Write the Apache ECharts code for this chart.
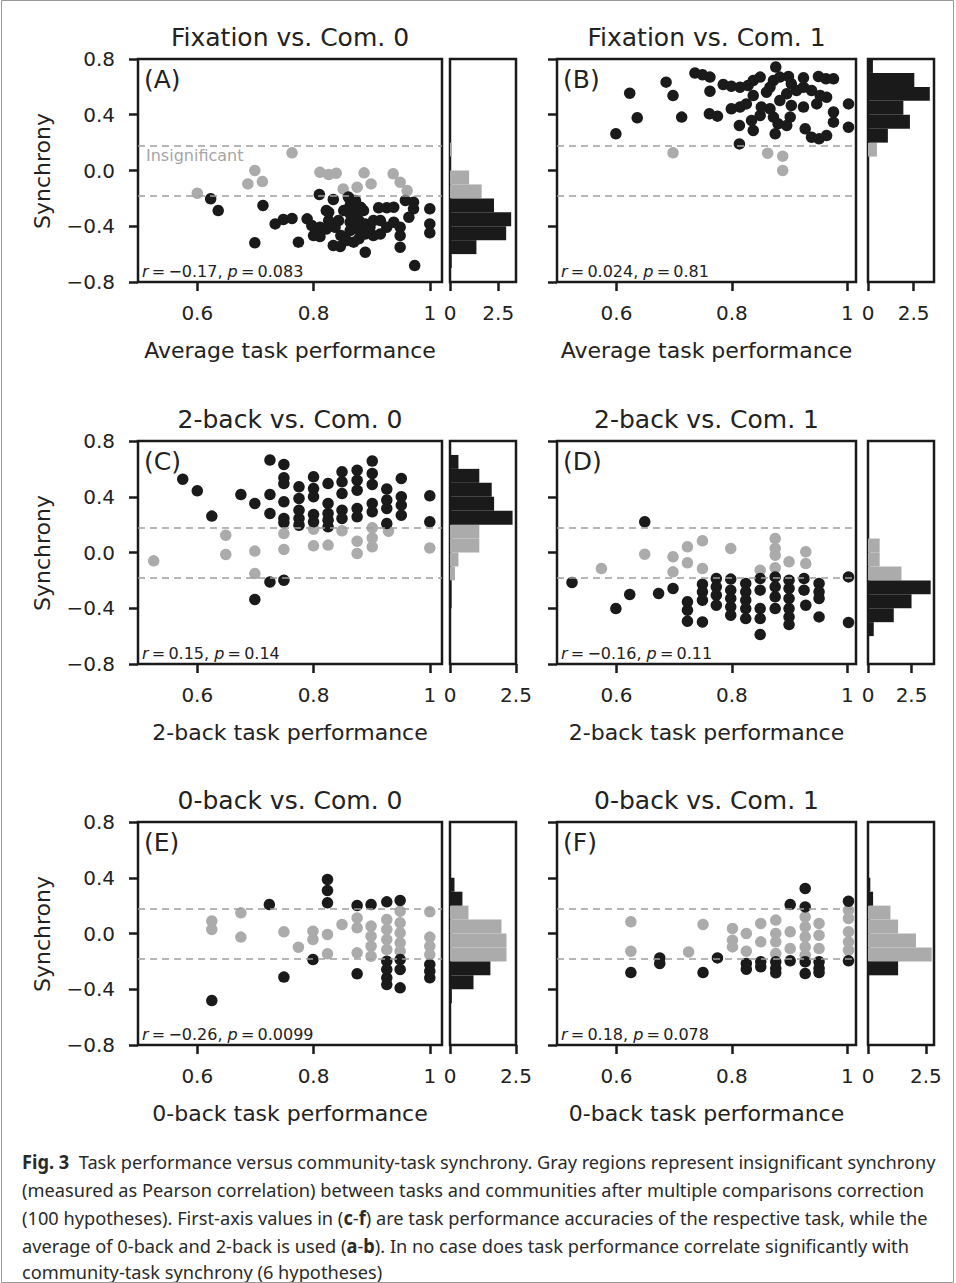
<!DOCTYPE html>
<html><head><meta charset="utf-8">
<script src="https://cdn.jsdelivr.net/npm/echarts@6/dist/echarts.min.js"></script>
<style>html,body{margin:0;padding:0;background:#fff}#c{width:956px;height:1283px}</style>
</head><body><div id="c"></div>
<script>
// ---------------- data ----------------
const panelTitles = ['Fixation vs. Com. 0','Fixation vs. Com. 1','2-back vs. Com. 0','2-back vs. Com. 1','0-back vs. Com. 0','0-back vs. Com. 1'];
const panelTags = ['(A)','(B)','(C)','(D)','(E)','(F)'];
const xAxisNames = ['Average task performance','Average task performance','2-back task performance','2-back task performance','0-back task performance','0-back task performance'];
const statR = ['\u22120.17','0.024','0.15','\u22120.16','\u22120.26','0.18'];
const statP = ['0.083','0.81','0.14','0.11','0.0099','0.078'];
const xTickValues = [0.6, 0.8, 1.0];
const histTickValues = [0, 2.5];
const thresholds = [0.185, -0.185];
// histogram bins (lower edges), bottom to top
const histBins = ['-0.8','-0.7','-0.6','-0.5','-0.4','-0.3','-0.2','-0.1','0.0','0.1','0.2','0.3','0.4','0.5','0.6','0.7'];

// Panel A: Fixation vs Com 0
const aGray = [[0.600,-0.163],[0.699,0.000],[0.687,-0.096],[0.712,-0.079],[0.763,0.127],[0.811,-0.012],[0.826,-0.029],[0.839,-0.019],[0.851,-0.132],[0.875,-0.120],[0.887,-0.017],[0.899,-0.096],[0.937,-0.024],[0.949,-0.084],[0.961,-0.144]];
const aBlack = [[0.623,-0.203],[0.636,-0.287],[0.699,-0.519],[0.713,-0.251],[0.734,-0.383],[0.748,-0.352],[0.763,-0.344],[0.774,-0.514],[0.789,-0.347],[0.797,-0.395],[0.800,-0.467],[0.811,-0.407],[0.811,-0.474],[0.810,-0.172],[0.834,-0.208],[0.826,-0.299],[0.826,-0.359],[0.837,-0.407],[0.834,-0.538],[0.846,-0.545],[0.847,-0.467],[0.860,-0.191],[0.863,-0.251],[0.863,-0.311],[0.863,-0.371],[0.863,-0.431],[0.872,-0.215],[0.875,-0.287],[0.878,-0.359],[0.875,-0.419],[0.878,-0.490],[0.869,-0.514],[0.886,-0.287],[0.889,-0.383],[0.889,-0.455],[0.889,-0.586],[0.897,-0.407],[0.903,-0.359],[0.912,-0.268],[0.926,-0.268],[0.938,-0.263],[0.915,-0.359],[0.926,-0.407],[0.938,-0.371],[0.949,-0.407],[0.949,-0.467],[0.949,-0.550],[0.958,-0.215],[0.972,-0.227],[0.972,-0.275],[0.964,-0.335],[1.000,-0.275],[1.000,-0.383],[1.000,-0.447],[0.974,-0.682],[0.822,-0.419],[0.843,-0.359],[0.852,-0.287],[0.903,-0.467],[0.915,-0.455],[0.857,-0.502],[0.869,-0.335],[0.881,-0.263],[0.822,-0.287]];
const aHistGray  = [0,0,0,0,0,0,1.64,0.99,0,0.10,0,0,0,0,0,0];
const aHistBlack = [0,0.09,1.37,2.91,3.17,2.28,0,0,0,0,0,0,0,0,0,0];

// Panel B: Fixation vs Com 1
const bGray = [[0.698,0.127],[0.862,0.124],[0.888,0.103],[0.888,0.000]];
const bBlack = [[0.599,0.263],[0.623,0.555],[0.636,0.378],[0.686,0.634],[0.698,0.538],[0.713,0.383],[0.736,0.699],[0.749,0.687],[0.762,0.670],[0.762,0.569],[0.761,0.407],[0.775,0.390],[0.785,0.617],[0.799,0.605],[0.813,0.191],[0.813,0.323],[0.799,0.443],[0.814,0.455],[0.825,0.478],[0.814,0.598],[0.828,0.610],[0.837,0.646],[0.849,0.670],[0.837,0.538],[0.860,0.562],[0.876,0.742],[0.872,0.646],[0.883,0.670],[0.898,0.675],[0.903,0.622],[0.924,0.665],[0.950,0.675],[0.963,0.658],[0.976,0.658],[0.834,0.359],[0.837,0.287],[0.849,0.395],[0.851,0.455],[0.866,0.443],[0.872,0.383],[0.875,0.263],[0.880,0.335],[0.895,0.323],[0.901,0.383],[0.903,0.467],[0.924,0.455],[0.927,0.299],[0.938,0.239],[0.951,0.227],[0.964,0.251],[0.895,0.550],[0.883,0.502],[0.924,0.598],[0.938,0.574],[0.947,0.478],[0.953,0.538],[0.964,0.526],[0.976,0.419],[0.976,0.347],[1.002,0.478],[1.002,0.311],[0.912,0.574],[0.866,0.598]];
const bHistGray  = [0,0,0,0,0,0,0,0,0,0.49,0,0,0,0,0,0];
const bHistBlack = [0,0,0,0,0,0,0,0,0,0,1.09,2.30,1.94,3.39,2.54,0.27];

// Panel C: 2-back vs Com 0
const cGray = [[0.525,-0.060],[0.649,0.124],[0.649,-0.014],[0.699,0.010],[0.699,-0.151],[0.749,0.136],[0.749,0.022],[0.800,0.167],[0.800,0.048],[0.825,0.053],[0.849,0.156],[0.875,0.081],[0.875,-0.007],[0.901,0.177],[0.901,0.105],[0.901,0.041],[0.929,0.153],[1.000,0.033]];
const cBlack = [[0.575,0.526],[0.600,0.443],[0.625,0.261],[0.675,0.416],[0.699,0.352],[0.699,-0.337],[0.725,0.663],[0.725,0.416],[0.725,0.280],[0.725,-0.211],[0.749,0.632],[0.749,0.536],[0.749,0.495],[0.749,0.364],[0.749,0.244],[0.749,0.215],[0.749,-0.199],[0.775,0.471],[0.775,0.388],[0.775,0.304],[0.775,0.244],[0.775,0.196],[0.800,0.543],[0.800,0.459],[0.800,0.400],[0.800,0.273],[0.800,0.220],[0.825,0.495],[0.825,0.352],[0.825,0.280],[0.825,0.232],[0.825,0.184],[0.849,0.579],[0.849,0.507],[0.849,0.423],[0.849,0.304],[0.849,0.244],[0.875,0.591],[0.875,0.519],[0.875,0.447],[0.875,0.316],[0.875,0.256],[0.901,0.656],[0.901,0.567],[0.901,0.488],[0.901,0.352],[0.901,0.292],[0.926,0.455],[0.926,0.376],[0.926,0.316],[0.926,0.208],[0.951,0.531],[0.951,0.400],[0.951,0.340],[0.951,0.268],[1.000,0.407],[1.000,0.220]];
const cHistGray  = [0,0,0,0,0,0,0.19,0.32,1.11,1.11,0,0,0,0,0,0];
const cHistBlack = [0,0,0,0,0.06,0.06,0,0,0,0,2.37,1.67,1.58,1.11,0.32,0];

// Panel D: 2-back vs Com 1
const dGray = [[0.574,-0.115],[0.649,-0.012],[0.698,-0.031],[0.698,-0.139],[0.723,0.041],[0.723,-0.074],[0.749,0.084],[0.749,-0.115],[0.798,0.029],[0.849,-0.127],[0.875,0.100],[0.875,0.029],[0.875,-0.019],[0.875,-0.110],[0.899,-0.067],[0.928,0.005],[0.928,-0.079]];
const dBlack = [[0.649,0.220],[0.523,-0.215],[0.599,-0.402],[0.623,-0.301],[0.673,-0.294],[0.698,-0.258],[0.723,-0.354],[0.723,-0.414],[0.723,-0.493],[0.749,-0.227],[0.749,-0.282],[0.749,-0.342],[0.749,-0.498],[0.773,-0.187],[0.773,-0.246],[0.773,-0.306],[0.773,-0.378],[0.798,-0.191],[0.798,-0.270],[0.798,-0.330],[0.798,-0.390],[0.798,-0.450],[0.824,-0.222],[0.824,-0.282],[0.824,-0.342],[0.824,-0.402],[0.824,-0.474],[0.849,-0.187],[0.849,-0.270],[0.849,-0.402],[0.849,-0.474],[0.849,-0.589],[0.875,-0.175],[0.875,-0.246],[0.875,-0.318],[0.875,-0.402],[0.899,-0.199],[0.899,-0.258],[0.899,-0.330],[0.899,-0.402],[0.899,-0.462],[0.899,-0.517],[0.925,-0.187],[0.925,-0.270],[0.928,-0.378],[0.951,-0.222],[0.951,-0.282],[0.951,-0.330],[0.951,-0.462],[1.002,-0.175],[1.002,-0.502]];
const dHistGray  = [0,0,0,0,0,0,1.92,0.67,0.67,0,0,0,0,0,0,0];
const dHistBlack = [0,0,0.33,1.48,2.50,3.60,0,0,0,0,0,0,0,0,0,0];

// Panel E: 0-back vs Com 0
const eGray = [[0.625,0.089],[0.625,0.029],[0.675,0.148],[0.675,-0.026],[0.749,0.012],[0.774,-0.098],[0.799,0.017],[0.799,-0.043],[0.824,-0.007],[0.824,-0.146],[0.849,0.065],[0.875,0.112],[0.875,0.041],[0.875,-0.139],[0.899,0.053],[0.899,-0.019],[0.899,-0.091],[0.899,-0.163],[0.926,0.100],[0.926,0.029],[0.926,-0.043],[0.926,-0.115],[0.949,0.160],[0.949,0.077],[0.949,0.005],[0.949,-0.067],[0.949,-0.127],[1.000,0.156],[1.000,-0.026],[1.000,-0.091],[1.000,-0.151]];
const eBlack = [[0.625,-0.481],[0.724,0.208],[0.749,-0.313],[0.799,-0.187],[0.824,0.388],[0.824,0.309],[0.824,0.220],[0.875,0.201],[0.899,0.208],[0.926,0.227],[0.949,0.237],[0.875,-0.289],[0.926,-0.199],[0.926,-0.258],[0.926,-0.318],[0.926,-0.366],[0.949,-0.187],[0.949,-0.258],[0.949,-0.390],[1.000,-0.222],[1.000,-0.270],[1.000,-0.318]];
const eHistGray  = [0,0,0,0,0,0,2.14,2.14,1.95,0.70,0,0,0,0,0,0];
const eHistBlack = [0,0,0,0.07,0.89,1.53,0,0,0,0,0.47,0.17,0,0,0,0];

// Panel F: 0-back vs Com 1
const fGray = [[0.625,0.084],[0.625,-0.127],[0.750,0.065],[0.725,-0.132],[0.801,0.036],[0.801,-0.048],[0.801,-0.096],[0.825,0.000],[0.825,-0.127],[0.850,0.072],[0.850,-0.060],[0.876,0.096],[0.876,0.000],[0.876,-0.060],[0.876,-0.144],[0.901,0.012],[0.901,-0.108],[0.927,0.120],[0.927,0.048],[0.927,-0.024],[0.927,-0.096],[0.927,-0.156],[0.951,0.072],[0.951,-0.012],[0.951,-0.108],[1.002,0.167],[1.002,0.108],[1.002,0.012],[1.002,-0.060],[1.002,-0.120]];
const fBlack = [[0.625,-0.280],[0.675,-0.175],[0.675,-0.215],[0.750,-0.280],[0.775,-0.175],[0.825,-0.215],[0.825,-0.256],[0.850,-0.203],[0.850,-0.239],[0.876,-0.203],[0.876,-0.251],[0.876,-0.282],[0.901,0.208],[0.901,-0.196],[0.927,0.323],[0.927,0.191],[0.927,-0.203],[0.927,-0.287],[0.951,-0.203],[0.951,-0.251],[0.951,-0.280],[1.002,0.232],[1.002,-0.196]];
const fHistGray  = [0,0,0,0,0,0,2.75,2.07,1.30,0.97,0,0,0,0,0,0];
const fHistBlack = [0,0,0,0,0,1.30,0,0,0,0,0.22,0.10,0,0,0,0];

const grayPts = [aGray,bGray,cGray,dGray,eGray,fGray];
const blackPts = [aBlack,bBlack,cBlack,dBlack,eBlack,fBlack];
const histGray = [aHistGray,bHistGray,cHistGray,dHistGray,eHistGray,fHistGray];
const histBlack = [aHistBlack,bHistBlack,cHistBlack,dHistBlack,eHistBlack,fHistBlack];

// ---------------- layout ----------------
const FONT = 'DejaVu Sans';
const INK = '#1a1a1a';
const GRAY = '#ababab';
const colLeft = [138, 557], colWidth = [304, 299];
const colXRange = [[0.498, 1.021], [0.497, 1.015]];
const rowTop = [59, 441, 822], plotH = 223;
const histLeft = [450, 868], histW = 66;
const histMax = [3.42, 3.62, 2.5, 3.79, 2.5, 2.85];

const grid = [], xAxis = [], yAxis = [], series = [], graphic = [];
const fmtY = v => Math.abs(v) < 1e-9 ? '0.0' : (v < 0 ? '\u2212' : '') + Math.abs(v).toFixed(1);
const tickStyle = {show: true, length: 9, lineStyle: {color: INK, width: 2.5}};

for (let i = 0; i < 6; i++) {
  const col = i % 2, row = Math.floor(i / 2);
  const gS = 2 * i, gH = 2 * i + 1;
  const top = rowTop[row];
  grid.push({left: colLeft[col], top: top, width: colWidth[col], height: plotH, show: true, borderColor: INK, borderWidth: 2.5, backgroundColor: 'transparent', containLabel: false});
  grid.push({left: histLeft[col], top: top, width: histW, height: plotH, show: true, borderColor: INK, borderWidth: 2.5, backgroundColor: 'transparent', containLabel: false});
  xAxis.push({type: 'value', gridIndex: gS, min: colXRange[col][0], max: colXRange[col][1],
    axisLine: {show: false, onZero: false}, splitLine: {show: false},
    axisTick: Object.assign({customValues: xTickValues}, tickStyle),
    axisLabel: {customValues: xTickValues, formatter: v => v > 0.999 ? '1' : v.toFixed(1), fontSize: 20, fontFamily: FONT, color: '#222', margin: 21}});
  xAxis.push({type: 'value', gridIndex: gH, min: 0, max: histMax[i],
    axisLine: {show: false, onZero: false}, splitLine: {show: false},
    axisTick: Object.assign({customValues: histTickValues}, tickStyle),
    axisLabel: {customValues: histTickValues, formatter: v => v === 0 ? '0' : v.toFixed(1), fontSize: 20, fontFamily: FONT, color: '#222', margin: 21}});
  yAxis.push({type: 'value', gridIndex: gS, min: -0.8, max: 0.8, interval: 0.4,
    axisLine: {show: false, onZero: false}, splitLine: {show: false},
    axisTick: tickStyle,
    axisLabel: {show: col === 0, formatter: fmtY, fontSize: 20, fontFamily: FONT, color: '#222', margin: 23}});
  yAxis.push({type: 'category', gridIndex: gH, data: histBins, boundaryGap: true,
    axisLine: {show: false, onZero: false}, axisTick: {show: false}, axisLabel: {show: false}, splitLine: {show: false}});

  series.push({type: 'scatter', xAxisIndex: gS, yAxisIndex: gS, data: grayPts[i], symbolSize: 11.5, itemStyle: {color: GRAY, opacity: 1}, z: 2, silent: true});
  series.push({type: 'scatter', xAxisIndex: gS, yAxisIndex: gS, data: blackPts[i], symbolSize: 11.5, itemStyle: {color: INK, opacity: 1}, z: 3, silent: true,
    markLine: {silent: true, symbol: 'none', z: 10, label: {show: false},
      lineStyle: {type: [7, 5], color: '#9e9e9e', width: 1.5},
      data: thresholds.map(t => ({yAxis: t}))}});
  series.push({type: 'bar', xAxisIndex: gH, yAxisIndex: gH, data: histGray[i], barGap: '-100%', barCategoryGap: '0%', itemStyle: {color: GRAY}, silent: true});
  series.push({type: 'bar', xAxisIndex: gH, yAxisIndex: gH, data: histBlack[i], barGap: '-100%', barCategoryGap: '0%', itemStyle: {color: INK}, silent: true});

  const cx = colLeft[col] + colWidth[col] / 2;
  graphic.push({type: 'text', x: cx, y: top - 22, style: {text: panelTitles[i], fontSize: 25, fontFamily: FONT, fill: '#222', textAlign: 'center', textVerticalAlign: 'middle'}});
  graphic.push({type: 'text', x: cx, y: top + 291, style: {text: xAxisNames[i], fontSize: 22, fontFamily: FONT, fill: '#222', textAlign: 'center', textVerticalAlign: 'middle'}});
  graphic.push({type: 'text', x: colLeft[col] + 6, y: top + 20, style: {text: panelTags[i], fontSize: 25, fontFamily: FONT, fill: '#222', textAlign: 'left', textVerticalAlign: 'middle'}});
  graphic.push({type: 'text', x: colLeft[col] + 4, y: top + 212, style: {
    text: '{i|r}\u2009=\u2009' + statR[i] + ', {i|p}\u2009=\u2009' + statP[i],
    fontSize: 16, fontFamily: FONT, fill: '#222', textAlign: 'left', textVerticalAlign: 'middle',
    rich: {i: {fontStyle: 'italic', fontSize: 16, fontFamily: FONT, fill: '#222'}}}});
  if (col === 0) {
    graphic.push({type: 'text', x: 42, y: top + 112, rotation: Math.PI / 2, style: {text: 'Synchrony', fontSize: 22, fontFamily: FONT, fill: '#222', textAlign: 'center', textVerticalAlign: 'middle'}});
  }
}
graphic.push({type: 'text', x: 146, y: 155, style: {text: 'Insignificant', fontSize: 16, fontFamily: FONT, fill: '#a5a5a5', textAlign: 'left', textVerticalAlign: 'middle'}});

// caption (condensed horizontally to the reference line width)
const CAP = 'Noto Sans';
const CAP_SIZE = 19;
const captionLines = [
  '{b|Fig. 3}  Task performance versus community-task synchrony. Gray regions represent insignificant synchrony',
  '(measured as Pearson correlation) between tasks and communities after multiple comparisons correction',
  '(100 hypotheses). First-axis values in ({b|c}-{b|f}) are task performance accuracies of the respective task, while the',
  'average of 0-back and 2-back is used ({b|a}-{b|b}). In no case does task performance correlate significantly with',
  'community-task synchrony (6 hypotheses)'
];
const captionY = [1161, 1189, 1217, 1245, 1271];
const mctx = document.createElement('canvas').getContext('2d');
mctx.font = CAP_SIZE + 'px "' + CAP + '"';
const capScale = Math.min(1, 902 / mctx.measureText(captionLines[1]).width);
captionLines.forEach((t, k) => {
  graphic.push({type: 'text', x: 22, y: captionY[k], scaleX: capScale, style: {text: t, fontSize: CAP_SIZE, fontFamily: CAP, fill: '#2a2a2a', textAlign: 'left', textVerticalAlign: 'middle',
    rich: {b: {fontWeight: 'bold', fontSize: CAP_SIZE, fontFamily: CAP, fill: '#2a2a2a'}}}});
});
graphic.push({type: 'rect', shape: {x: 1.5, y: 0.5, width: 952, height: 1282}, style: {fill: 'none', stroke: '#9a9a9a', lineWidth: 1}, silent: true});

const chart = echarts.init(document.getElementById('c'), null, {renderer: 'svg', width: 956, height: 1283});
chart.setOption({animation: false, backgroundColor: '#fff', grid, xAxis, yAxis, series, graphic});
</script></body></html>
